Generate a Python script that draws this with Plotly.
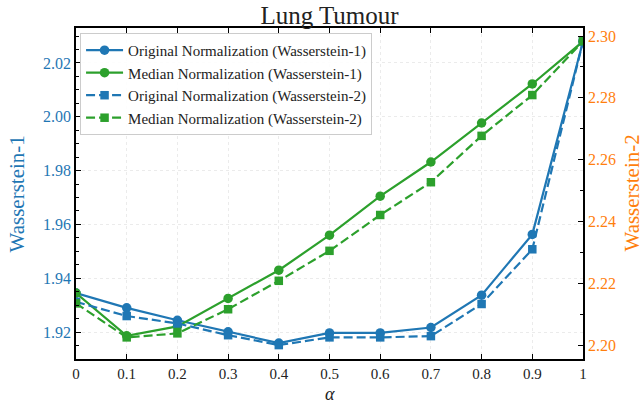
import plotly.graph_objects as go

alpha = [0, 0.1, 0.2, 0.3, 0.4, 0.5, 0.6, 0.7, 0.8, 0.9, 1.0]

orig_w1 = [1.9345, 1.9290, 1.9244, 1.9201, 1.9159, 1.9197, 1.9197, 1.9217, 1.9337, 1.9563, 2.0280]
med_w1 = [1.9345, 1.9186, 1.9221, 1.9325, 1.9430, 1.9560, 1.9705, 1.9832, 1.9977, 2.0122, 2.0280]
orig_w2 = [2.2140, 2.2094, 2.2070, 2.2032, 2.2000, 2.2025, 2.2025, 2.2029, 2.2133, 2.2310, 2.2983]
med_w2 = [2.2135, 2.2025, 2.2038, 2.2116, 2.2208, 2.2305, 2.2421, 2.2527, 2.2677, 2.2809, 2.2983]

BLUE = "#1f77b4"
GREEN = "#2ca02c"
ORANGE = "#ff7f0e"
FONT = "Liberation Serif"

fig = go.Figure()
fig.add_trace(go.Scatter(x=alpha, y=orig_w1, mode="lines+markers", name="Original Normalization (Wasserstein-1)",
                         line=dict(color=BLUE, width=2.2), marker=dict(symbol="circle", size=9.5, color=BLUE)))
fig.add_trace(go.Scatter(x=alpha, y=med_w1, mode="lines+markers", name="Median Normalization (Wasserstein-1)",
                         line=dict(color=GREEN, width=2.2), marker=dict(symbol="circle", size=9.5, color=GREEN)))
fig.add_trace(go.Scatter(x=alpha, y=orig_w2, mode="lines+markers", name="Original Normalization (Wasserstein-2)",
                         yaxis="y2", line=dict(color=BLUE, width=2.2, dash="9px,4px"),
                         marker=dict(symbol="square", size=8.5, color=BLUE)))
fig.add_trace(go.Scatter(x=alpha, y=med_w2, mode="lines+markers", name="Median Normalization (Wasserstein-2)",
                         yaxis="y2", line=dict(color=GREEN, width=2.2, dash="9px,4px"),
                         marker=dict(symbol="square", size=8.5, color=GREEN)))

grid = "rgba(0,0,0,0.08)"
fig.update_layout(
    width=644, height=406,
    margin=dict(l=76, r=61, t=28, b=47),
    paper_bgcolor="white", plot_bgcolor="white",
    font=dict(family=FONT, size=16, color="#222"),
    title=dict(text="Lung Tumour", x=0.5, xref="paper", y=1 - 15 / 406, yref="container",
               xanchor="center", yanchor="middle", font=dict(size=25, color="#222")),
    showlegend=True,
    legend=dict(x=0.008, y=0.985, xanchor="left", yanchor="top", bgcolor="rgba(255,255,255,0.9)",
                bordercolor="#cccccc", borderwidth=1, font=dict(size=15, color="#222"),
                tracegroupgap=0, itemwidth=37),
    xaxis=dict(range=[0, 1], dtick=0.1, tick0=0, ticks="inside", ticklen=5, tickcolor="black",
               showline=True, linecolor="black", linewidth=1.5, mirror="ticks", automargin=False,
               showgrid=True, gridcolor=grid, griddash="dot", zeroline=False,
               tickfont=dict(size=15, color="#222")),
    yaxis=dict(range=[1.9100, 2.0330], dtick=0.02, tick0=1.92, tickformat=".2f", ticks="inside",
               ticklen=5, tickcolor="black", showline=True, linecolor="black", linewidth=1.5,
               showgrid=True, gridcolor=grid, griddash="dot", zeroline=False, automargin=False,
               minor=dict(dtick=0.005, ticks="inside", ticklen=3, tickcolor="black", showgrid=False),
               tickfont=dict(size=16, color=BLUE)),
    yaxis2=dict(range=[2.1955, 2.3026], dtick=0.02, tick0=2.20, tickformat=".2f", ticks="inside",
                ticklen=5, tickcolor="black", overlaying="y", side="right", showline=True,
                linecolor="black", linewidth=1.5, showgrid=False, zeroline=False, automargin=False,
                minor=dict(dtick=0.01, ticks="inside", ticklen=3, tickcolor="black", showgrid=False),
                tickfont=dict(size=16, color=ORANGE)),
    annotations=[
        dict(text="<i>α</i>", x=0.5, y=-0.142, xref="paper", yref="paper", showarrow=False,
             xanchor="center", yanchor="bottom", font=dict(size=18, color="#222")),
        dict(text="Wasserstein-1", x=-0.1164, y=0.5, xref="paper", yref="paper", showarrow=False,
             textangle=-90, xanchor="center", yanchor="middle", font=dict(size=21, color=BLUE)),
        dict(text="Wasserstein-2", x=1.0947, y=0.5, xref="paper", yref="paper", showarrow=False,
             textangle=-90, xanchor="center", yanchor="middle", font=dict(size=21, color=ORANGE)),
    ],
)

fig.write_html("out.html", config={"displayModeBar": False},
               post_script="document.body.style.margin='0px';")
